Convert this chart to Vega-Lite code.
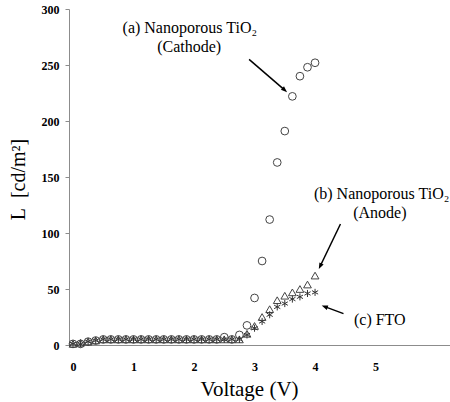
{
  "$schema": "https://vega.github.io/schema/vega-lite/v6.json",
  "width": 381,
  "height": 336,
  "autosize": "none",
  "padding": {"left": 69, "top": 9, "right": 0, "bottom": 57},
  "background": "white",
  "config": {
    "view": {"stroke": null},
    "font": "Liberation Serif",
    "axis": {"grid": false, "domainColor": "#8c8c8c", "tickColor": "#8c8c8c", "labelFont": "Liberation Serif", "labelFontWeight": "bold", "labelFontSize": 12, "labelColor": "#000", "titleFont": "Liberation Serif", "titleFontWeight": "normal", "titleColor": "#000"}
  },
  "datasets": {
    "pts": [
      {"v": 0, "L": 1, "s": "Cathode"}, {"v": 0.125, "L": 1, "s": "Cathode"}, {"v": 0.25, "L": 3, "s": "Cathode"}, {"v": 0.375, "L": 4, "s": "Cathode"},
      {"v": 0.5, "L": 5, "s": "Cathode"}, {"v": 0.625, "L": 5, "s": "Cathode"}, {"v": 0.75, "L": 5, "s": "Cathode"}, {"v": 0.875, "L": 5, "s": "Cathode"},
      {"v": 1.0, "L": 5, "s": "Cathode"}, {"v": 1.125, "L": 5, "s": "Cathode"}, {"v": 1.25, "L": 5, "s": "Cathode"}, {"v": 1.375, "L": 5, "s": "Cathode"},
      {"v": 1.5, "L": 5, "s": "Cathode"}, {"v": 1.625, "L": 5, "s": "Cathode"}, {"v": 1.75, "L": 5, "s": "Cathode"}, {"v": 1.875, "L": 5, "s": "Cathode"},
      {"v": 2.0, "L": 5, "s": "Cathode"}, {"v": 2.125, "L": 5, "s": "Cathode"}, {"v": 2.25, "L": 5, "s": "Cathode"}, {"v": 2.375, "L": 5, "s": "Cathode"},
      {"v": 2.5, "L": 7, "s": "Cathode"}, {"v": 2.625, "L": 5, "s": "Cathode"}, {"v": 2.75, "L": 9, "s": "Cathode"}, {"v": 2.875, "L": 17.5, "s": "Cathode"},
      {"v": 3.0, "L": 42, "s": "Cathode"}, {"v": 3.125, "L": 75, "s": "Cathode"}, {"v": 3.25, "L": 112, "s": "Cathode"}, {"v": 3.375, "L": 163, "s": "Cathode"},
      {"v": 3.5, "L": 191, "s": "Cathode"}, {"v": 3.625, "L": 222, "s": "Cathode"}, {"v": 3.75, "L": 240, "s": "Cathode"}, {"v": 3.875, "L": 248, "s": "Cathode"},
      {"v": 4.0, "L": 252, "s": "Cathode"},
      {"v": 0, "L": 1, "s": "Anode"}, {"v": 0.125, "L": 2, "s": "Anode"}, {"v": 0.25, "L": 3, "s": "Anode"}, {"v": 0.375, "L": 4, "s": "Anode"},
      {"v": 0.5, "L": 5, "s": "Anode"}, {"v": 0.625, "L": 5, "s": "Anode"}, {"v": 0.75, "L": 5, "s": "Anode"}, {"v": 0.875, "L": 5, "s": "Anode"},
      {"v": 1.0, "L": 5, "s": "Anode"}, {"v": 1.125, "L": 5, "s": "Anode"}, {"v": 1.25, "L": 5, "s": "Anode"}, {"v": 1.375, "L": 5, "s": "Anode"},
      {"v": 1.5, "L": 5, "s": "Anode"}, {"v": 1.625, "L": 5, "s": "Anode"}, {"v": 1.75, "L": 5, "s": "Anode"}, {"v": 1.875, "L": 5, "s": "Anode"},
      {"v": 2.0, "L": 5, "s": "Anode"}, {"v": 2.125, "L": 5, "s": "Anode"}, {"v": 2.25, "L": 5, "s": "Anode"}, {"v": 2.375, "L": 5, "s": "Anode"},
      {"v": 2.5, "L": 5, "s": "Anode"}, {"v": 2.625, "L": 5, "s": "Anode"}, {"v": 2.75, "L": 5, "s": "Anode"}, {"v": 2.875, "L": 10, "s": "Anode"},
      {"v": 3.0, "L": 17, "s": "Anode"}, {"v": 3.125, "L": 25, "s": "Anode"}, {"v": 3.25, "L": 32, "s": "Anode"}, {"v": 3.375, "L": 40, "s": "Anode"},
      {"v": 3.5, "L": 44, "s": "Anode"}, {"v": 3.625, "L": 47, "s": "Anode"}, {"v": 3.75, "L": 50, "s": "Anode"}, {"v": 3.875, "L": 54, "s": "Anode"},
      {"v": 4.0, "L": 62, "s": "Anode"},
      {"v": 0, "L": 1, "s": "FTO"}, {"v": 0.125, "L": 1, "s": "FTO"}, {"v": 0.25, "L": 3, "s": "FTO"}, {"v": 0.375, "L": 4, "s": "FTO"},
      {"v": 0.5, "L": 5, "s": "FTO"}, {"v": 0.625, "L": 5, "s": "FTO"}, {"v": 0.75, "L": 5, "s": "FTO"}, {"v": 0.875, "L": 5, "s": "FTO"},
      {"v": 1.0, "L": 5, "s": "FTO"}, {"v": 1.125, "L": 5, "s": "FTO"}, {"v": 1.25, "L": 5, "s": "FTO"}, {"v": 1.375, "L": 5, "s": "FTO"},
      {"v": 1.5, "L": 5, "s": "FTO"}, {"v": 1.625, "L": 5, "s": "FTO"}, {"v": 1.75, "L": 5, "s": "FTO"}, {"v": 1.875, "L": 5, "s": "FTO"},
      {"v": 2.0, "L": 5, "s": "FTO"}, {"v": 2.125, "L": 5, "s": "FTO"}, {"v": 2.25, "L": 5, "s": "FTO"}, {"v": 2.375, "L": 5, "s": "FTO"},
      {"v": 2.5, "L": 5, "s": "FTO"}, {"v": 2.625, "L": 5, "s": "FTO"}, {"v": 2.75, "L": 5, "s": "FTO"}, {"v": 2.875, "L": 9, "s": "FTO"},
      {"v": 3.0, "L": 15, "s": "FTO"}, {"v": 3.125, "L": 21, "s": "FTO"}, {"v": 3.25, "L": 27, "s": "FTO"}, {"v": 3.375, "L": 34, "s": "FTO"},
      {"v": 3.5, "L": 37, "s": "FTO"}, {"v": 3.625, "L": 41, "s": "FTO"}, {"v": 3.75, "L": 43, "s": "FTO"}, {"v": 3.875, "L": 46, "s": "FTO"},
      {"v": 4.0, "L": 47, "s": "FTO"}
    ],
    "arrows": [
      {"id": "a", "x1": 2.91, "y1": 255, "x2": 3.49, "y2": 228},
      {"id": "b", "x1": 4.42, "y1": 108, "x2": 4.09, "y2": 71},
      {"id": "c", "x1": 4.47, "y1": 28, "x2": 4.17, "y2": 34}
    ],
    "labels": [
      {"t": "(a) Nanoporous TiO₂", "x": 1.93, "y": 283},
      {"t": "(Cathode)", "x": 1.92, "y": 266},
      {"t": "(b) Nanoporous TiO₂", "x": 5.1, "y": 135},
      {"t": "(Anode)", "x": 5.07, "y": 118},
      {"t": "(c) FTO", "x": 5.07, "y": 22}
    ]
  },
  "layer": [
    {
      "data": {"name": "pts"},
      "transform": [{"filter": "datum.s === 'Cathode'"}],
      "mark": {"type": "point", "shape": "circle", "filled": false, "stroke": "#444", "strokeWidth": 1, "size": 60, "opacity": 1},
      "encoding": {
        "x": {"field": "v", "type": "quantitative", "scale": {"domain": [-0.066, 6.23], "nice": false, "zero": false},
          "axis": {"values": [0, 1, 2, 3, 4, 5], "format": "d", "ticks": false, "labelPadding": 16, "title": "Voltage (V)", "titleFontSize": 21, "titleX": 180, "titleY": 50, "titleBaseline": "alphabetic", "titleAnchor": null}},
        "y": {"field": "L", "type": "quantitative", "scale": {"domain": [0, 300], "nice": false},
          "axis": {"values": [0, 50, 100, 150, 200, 250, 300], "tickSize": 4, "labelPadding": 6, "title": "L\u00a0\u00a0[cd/m²]", "titleFontSize": 20, "titleX": -51, "titleY": 170, "titleAngle": -90, "titleBaseline": "middle", "titleAlign": "center"}}
      }
    },
    {
      "data": {"name": "pts"},
      "transform": [{"filter": "datum.s === 'Anode'"}],
      "mark": {"type": "point", "shape": "triangle-up", "filled": false, "stroke": "#444", "strokeWidth": 1, "size": 60, "opacity": 1},
      "encoding": {"x": {"field": "v", "type": "quantitative"}, "y": {"field": "L", "type": "quantitative"}}
    },
    {
      "data": {"name": "pts"},
      "transform": [{"filter": "datum.s === 'FTO'"}],
      "mark": {"type": "point", "shape": "M0,-1L0,1M-0.87,-0.5L0.87,0.5M-0.87,0.5L0.87,-0.5", "filled": false, "stroke": "#333", "strokeWidth": 1, "size": 50, "opacity": 1},
      "encoding": {"x": {"field": "v", "type": "quantitative"}, "y": {"field": "L", "type": "quantitative"}}
    },
    {
      "data": {"name": "arrows"},
      "mark": {"type": "rule", "color": "#000", "strokeWidth": 1.5},
      "encoding": {"x": {"field": "x1", "type": "quantitative"}, "y": {"field": "y1", "type": "quantitative"}, "x2": {"field": "x2"}, "y2": {"field": "y2"}}
    },
    {
      "data": {"name": "arrows"},
      "transform": [{"filter": "datum.id === 'a'"}],
      "mark": {"type": "point", "shape": "M0,-1L0.6,0.6L-0.6,0.6Z", "filled": true, "color": "#000", "size": 60, "angle": 131.5, "opacity": 1},
      "encoding": {"x": {"field": "x2", "type": "quantitative"}, "y": {"field": "y2", "type": "quantitative"}}
    },
    {
      "data": {"name": "arrows"},
      "transform": [{"filter": "datum.id === 'b'"}],
      "mark": {"type": "point", "shape": "M0,-1L0.6,0.6L-0.6,0.6Z", "filled": true, "color": "#000", "size": 60, "angle": 205.6, "opacity": 1},
      "encoding": {"x": {"field": "x2", "type": "quantitative"}, "y": {"field": "y2", "type": "quantitative"}}
    },
    {
      "data": {"name": "arrows"},
      "transform": [{"filter": "datum.id === 'c'"}],
      "mark": {"type": "point", "shape": "M0,-1L0.6,0.6L-0.6,0.6Z", "filled": true, "color": "#000", "size": 60, "angle": 290, "opacity": 1},
      "encoding": {"x": {"field": "x2", "type": "quantitative"}, "y": {"field": "y2", "type": "quantitative"}}
    },
    {
      "data": {"name": "labels"},
      "mark": {"type": "text", "font": "Liberation Serif", "fontSize": 16, "color": "#000", "align": "center", "baseline": "middle"},
      "encoding": {"x": {"field": "x", "type": "quantitative"}, "y": {"field": "y", "type": "quantitative"}, "text": {"field": "t"}}
    }
  ]
}
